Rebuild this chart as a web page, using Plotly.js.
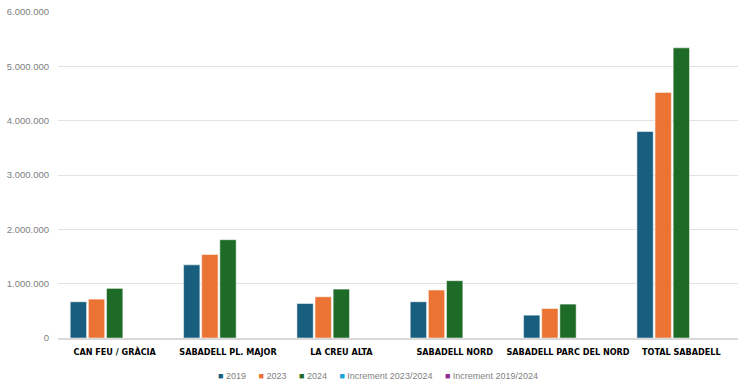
<!DOCTYPE html>
<html>
<head>
<meta charset="utf-8">
<script src="https://cdn.plot.ly/plotly-3.0.1.min.js"></script>
<style>
  html, body { margin: 0; padding: 0; background: #ffffff; }
  #chart { width: 750px; height: 390px; }
</style>
</head>
<body>
<div id="chart"></div>
<script>
const categories = ["CAN FEU / GRÀCIA", "SABADELL PL. MAJOR", "LA CREU ALTA", "SABADELL NORD", "SABADELL PARC DEL NORD", "TOTAL SABADELL"];
const values2019 = [667000, 1346000, 635000, 667000, 420000, 3800000];
const values2023 = [716000, 1537000, 759000, 883000, 543000, 4520000];
const values2024 = [913000, 1809000, 900000, 1055000, 624000, 5340000];
const increment2023_2024 = [0.28, 0.18, 0.19, 0.19, 0.15, 0.18];
const increment2019_2024 = [0.37, 0.34, 0.42, 0.58, 0.49, 0.41];
const seriesNames = ["2019", "2023", "2024", "Increment 2023/2024", "Increment 2019/2024"];
const yTicks = [0, 1000000, 2000000, 3000000, 4000000, 5000000, 6000000];

const colors = ["#175e7f", "#eb7334", "#1d6b26", "#1aa0dc", "#922b91"];
const seriesValues = [values2019, values2023, values2024, increment2023_2024, increment2019_2024];

const traces = seriesValues.map((vals, i) => ({
  type: "bar",
  name: seriesNames[i],
  x: categories,
  y: vals,
  marker: { color: colors[i], line: { color: "#ffffff", width: 0.5 } },
  hoverinfo: "x+y+name",
  showlegend: false
}));

const legendText = seriesNames.map((n, i) =>
  '<span style="color:' + colors[i] + '">■</span> ' + n
).join('&nbsp;&nbsp;&nbsp;&nbsp;&nbsp;');

const layout = {
  width: 750,
  height: 390,
  paper_bgcolor: "#ffffff",
  plot_bgcolor: "#ffffff",
  separators: ",.",
  margin: { l: 58, r: 12, t: 12, b: 52 },
  barmode: "group",
  bargap: 0.2,
  bargroupgap: 0.1,
  font: { family: "Liberation Sans, Arial, sans-serif", size: 10, color: "#7f7f7f" },
  xaxis: {
    type: "category",
    showgrid: false,
    showline: true,
    linecolor: "#d9d9d9",
    linewidth: 2,
    ticks: "",
    tickangle: 0,
    ticklabelstandoff: 4,
    tickfont: { family: "DejaVu Sans Condensed, Liberation Sans Narrow, sans-serif", size: 9, color: "#000000", weight: "bold" },
    automargin: false
  },
  yaxis: {
    range: [0, 6000000],
    tickvals: yTicks,
    tickformat: ",d",
    showgrid: true,
    gridcolor: "#e2e2e2",
    gridwidth: 1,
    zeroline: false,
    showline: false,
    ticks: "",
    ticklabelstandoff: 8,
    tickfont: { family: "Liberation Sans, Arial, sans-serif", size: 9.5, color: "#808080" },
    automargin: false
  },
  showlegend: false,
  annotations: [{
    xref: "paper", yref: "paper",
    x: 0.47, y: -0.095,
    xanchor: "center", yanchor: "top",
    showarrow: false,
    text: legendText,
    font: { family: "Liberation Sans, Arial, sans-serif", size: 9, color: "#7f7f7f" }
  }]
};

Plotly.newPlot("chart", traces, layout, { displayModeBar: false, staticPlot: true });
</script>
</body>
</html>
